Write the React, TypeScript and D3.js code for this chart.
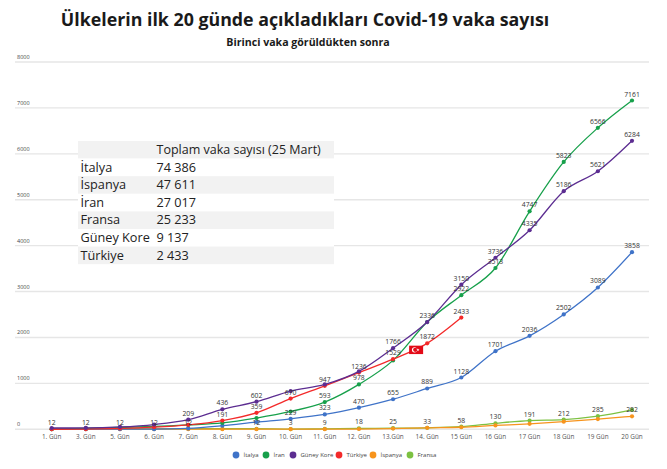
import * as d3 from 'd3'

const WIDTH = 667
const HEIGHT = 469

const days = [
  '1. Gün', '3. Gün', '5. Gün', '6. Gün', '7. Gün', '8. Gün', '9. Gün', '10. Gün', '11. Gün',
  '12. Gün', '13.Gün', '14. Gün', '15 Gün', '16 Gün', '17 Gün', '18 Gün', '19 Gün', '20 Gün',
]

const italya = [3, 3, 3, 3, 20, 79, 157, 229, 323, 470, 655, 889, 1128, 1701, 2036, 2502, 3089, 3858]
const iran = [2, 18, 43, 61, 95, 139, 245, 388, 593, 978, 1501, 2336, 2922, 3513, 4747, 5823, 6566, 7161]
const guneyKore = [28, 30, 51, 104, 209, 436, 602, 833, 977, 1261, 1766, 2336, 3150, 3736, 4335, 5186, 5621, 6284]
const turkiye = [1, 5, 18, 47, 98, 191, 359, 670, 947, 1236, 1529, 1872, 2433]
const ispanya = [2, 2, 2, 2, 2, 2, 2, 2, 2, 6, 15, 32, 45, 84, 120, 165, 222, 282]
const fransa = [12, 12, 12, 12, 12, 12, 12, 3, 9, 18, 25, 33, 58, 130, 191, 212, 285, 423]

// which points carry a value label (index into days)
const italyaLabels = [7, 8, 9, 10, 11, 12, 13, 14, 15, 16, 17]
const iranLabels = [8, 9, 12, 13, 14, 15, 16, 17]
const koreLabels = [4, 5, 6, 10, 11, 12, 13, 14, 15, 16, 17]
const turkiyeLabels = [5, 6, 7, 8, 9, 10, 11, 12]
const ispanyaLabels = [17]
const fransaLabels = [0, 1, 2, 3, 4, 6, 7, 8, 9, 10, 11, 12, 13, 14, 15, 16]

const yTicks = [0, 1000, 2000, 3000, 4000, 5000, 6000, 7000, 8000]

const tableHeader = 'Toplam vaka sayısı (25 Mart)'
const tableCountries = ['İtalya', 'İspanya', 'İran', 'Fransa', 'Güney Kore', 'Türkiye']
const tableTotals = ['74 386', '47 611', '27 017', '25 233', '9 137', '2 433']

interface Series {
  name: string
  values: number[]
  labels: number[]
  color: string
}

const series: Series[] = [
  { name: 'Fransa', values: fransa, labels: fransaLabels, color: '#7cc142' },
  { name: 'İspanya', values: ispanya, labels: ispanyaLabels, color: '#f7941d' },
  { name: 'İtalya', values: italya, labels: italyaLabels, color: '#3f73c8' },
  { name: 'İran', values: iran, labels: iranLabels, color: '#17a04b' },
  { name: 'Türkiye', values: turkiye, labels: turkiyeLabels, color: '#f32a2a' },
  { name: 'Güney Kore', values: guneyKore, labels: koreLabels, color: '#5c2d91' },
]

const legendOrder = ['İtalya', 'İran', 'Güney Kore', 'Türkiye', 'İspanya', 'Fransa']
const legendX = [236, 266, 293, 339, 373, 410]

const font = '"Open Sans", "Noto Sans", sans-serif'

export default function App(): JSX.Element {
  const x = d3.scalePoint<string>().domain(days).range([51.7, 632])
  const y = d3.scaleLinear().domain([0, 8000]).range([429.3, 62])

  const line = d3
    .line<number>()
    .x((_, i) => x(days[i]) ?? 0)
    .y((d) => y(d))
    .curve(d3.curveMonotoneX)

  const rowH = 17.6
  const tableTop = 141
  const flagX = (x('13.Gün')! + x('14. Gün')!) / 2 + 6
  const flagY = y(1730)

  return (
    <svg
      width={WIDTH}
      height={HEIGHT}
      style={{ position: 'fixed', left: 0, top: 0, background: '#fff' }}
      fontFamily={font}
    >
      <text x={305} y={26} textAnchor="middle" fontSize={17.8} fontWeight={700} fill="#1a1a1a">
        Ülkelerin ilk 20 günde açıkladıkları Covid-19 vaka sayısı
      </text>
      <text x={308} y={45.5} textAnchor="middle" fontSize={10.6} fontWeight={700} fill="#1a1a1a">
        Birinci vaka görüldükten sonra
      </text>

      {yTicks.map((t) => (
        <g key={t}>
          <line x1={15} x2={649} y1={y(t)} y2={y(t)} stroke="#e6e6e6" strokeWidth={1.4} />
          <text x={17} y={y(t) - 3} fontSize={5.5} fill="#444">
            {t}
          </text>
        </g>
      ))}

      {/* totals table */}
      <g>
        {[0, 1, 2, 3, 4, 5, 6].map((r) => (
          <rect
            key={r}
            x={78}
            y={tableTop + r * rowH}
            width={256}
            height={rowH}
            fill={r % 2 === 0 ? '#f2f2f2' : '#ffffff'}
          />
        ))}
        <text x={156.5} y={tableTop + 13} fontSize={12.5} fill="#222">
          {tableHeader}
        </text>
        {tableCountries.map((c, i) => (
          <g key={c}>
            <text x={80.5} y={tableTop + (i + 1) * rowH + 13} fontSize={12.7} fill="#222">
              {c}
            </text>
            <text x={156.5} y={tableTop + (i + 1) * rowH + 13} fontSize={12.7} fill="#222">
              {tableTotals[i]}
            </text>
          </g>
        ))}
      </g>

      {series.map((s) => (
        <g key={s.name}>
          <path d={line(s.values) ?? ''} fill="none" stroke={s.color} strokeWidth={1.3} />
          {s.values.map((v, i) => (
            <circle key={i} cx={x(days[i])} cy={y(v)} r={2.1} fill={s.color} />
          ))}
        </g>
      ))}

      {series.map((s) => (
        <g key={`lab-${s.name}`}>
          {s.labels.map((i) => (
            <text
              key={i}
              x={x(days[i])}
              y={y(s.values[i]) - 4}
              textAnchor="middle"
              fontSize={6.8}
              fill="#333"
            >
              {s.values[i]}
            </text>
          ))}
        </g>
      ))}

      {/* Turkish flag marker */}
      <g transform={`translate(${flagX},${flagY})`}>
        <rect x={-7} y={-4.2} width={14} height={8.4} fill="#e30a17" />
        <circle cx={-1.6} cy={0} r={2.6} fill="#fff" />
        <circle cx={-0.9} cy={0} r={2.1} fill="#e30a17" />
        <path
          d={d3.symbol().type(d3.symbolStar).size(3)() ?? ''}
          transform="translate(1.8,0)"
          fill="#fff"
        />
      </g>

      {days.map((d) => (
        <text key={d} x={x(d)} y={439} textAnchor="middle" fontSize={6.4} fill="#555">
          {d}
        </text>
      ))}

      {legendOrder.map((name, i) => {
        const s = series.find((e) => e.name === name)!
        return (
          <g key={name}>
            <circle cx={legendX[i]} cy={455} r={3.4} fill={s.color} />
            <text x={legendX[i] + 7.5} y={457.2} fontSize={6} fill="#444">
              {name}
            </text>
          </g>
        )
      })}
    </svg>
  )
}
